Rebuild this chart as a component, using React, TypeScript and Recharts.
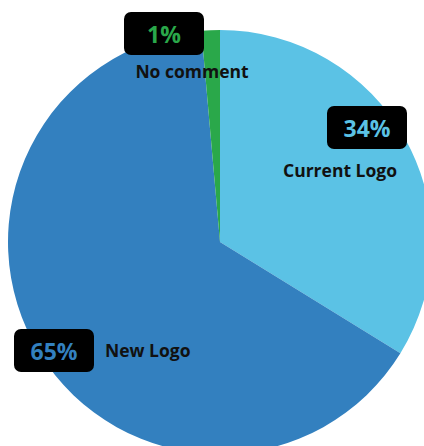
import { PieChart, Pie, Cell } from 'recharts';

const categories = ['Current Logo', 'New Logo', 'No comment'];
const shares = [33.8, 64.8, 1.4];
const colors = ['#5bc2e5', '#3380bf', '#2aa84a'];

// label placement relative to pie centre: [boxDx, boxDy, nameDx, nameDy, nameAnchor]
const labelLayout: [number, number, number, number, 'middle' | 'start'][] = [
  [147, -115, 120, -72, 'middle'],
  [-166, 108, -115, 108, 'start'],
  [-56, -209, -28, -171, 'middle'],
];

const data = categories.map((name, i) => ({ name, value: shares[i] }));

const FONT = '"Open Sans", "Noto Sans", sans-serif';

function renderLabel(props: any) {
  const { cx, cy, index, value } = props;
  const [bx, by, nx, ny, anchor] = labelLayout[index];
  return (
    <g key={`lbl-${index}`}>
      <rect x={cx + bx - 40} y={cy + by - 21} width={80} height={43} rx={7} fill="#000" />
      <text
        x={cx + bx}
        y={cy + by + 1}
        textAnchor="middle"
        dominantBaseline="central"
        fill={colors[index]}
        fontFamily={FONT}
        fontWeight={700}
        fontSize={23}
      >
        {`${Math.round(value)}%`}
      </text>
      <text
        x={cx + nx}
        y={cy + ny}
        textAnchor={anchor}
        dominantBaseline="central"
        fill="#111"
        fontFamily={FONT}
        fontWeight={700}
        fontSize={17.5}
      >
        {categories[index]}
      </text>
    </g>
  );
}

export default function App() {
  return (
    <div style={{ position: 'absolute', left: 0, top: 0, background: '#fff' }}>
      <PieChart width={424} height={446} margin={{ top: 0, right: 0, bottom: 0, left: 0 }}>
        <Pie
          data={data}
          dataKey="value"
          nameKey="name"
          cx={220}
          cy={242}
          outerRadius={212}
          startAngle={90}
          endAngle={-270}
          stroke="none"
          labelLine={false}
          label={renderLabel}
          isAnimationActive={false}
        >
          {data.map((d, i) => (
            <Cell key={d.name} fill={colors[i]} />
          ))}
        </Pie>
      </PieChart>
    </div>
  );
}
